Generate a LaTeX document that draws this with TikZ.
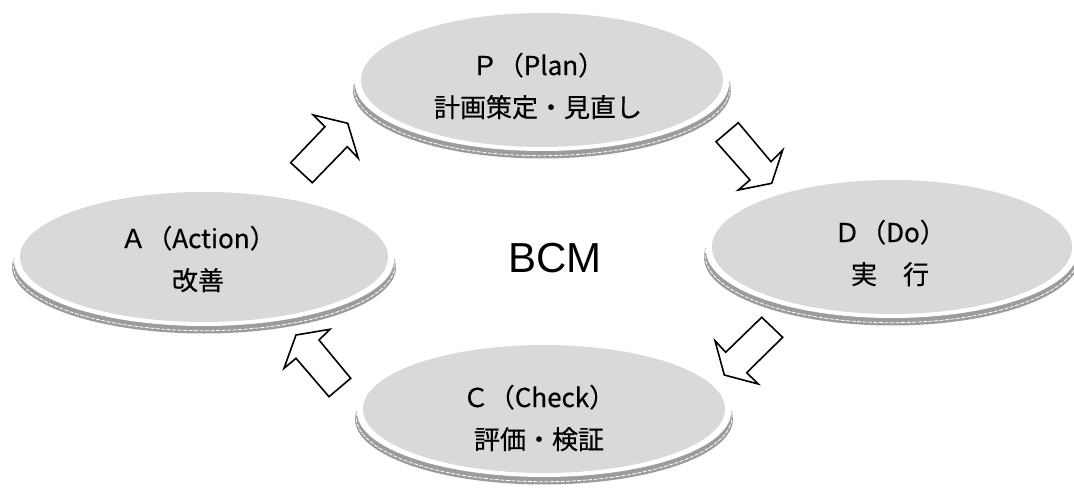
\documentclass[tikz,border=0pt]{standalone}
\usepackage{fontspec}
\setmainfont{Liberation Sans}
\newfontfamily\jpfont{Noto Sans CJK JP}
\usetikzlibrary{shapes.geometric}
\definecolor{facegray}{HTML}{D9D9D9}
\definecolor{rimgray}{HTML}{9C9C9C}
\tikzset{
  facedisc/.style={ellipse, fill=facegray, inner sep=0pt},
  disclabel/.style={font=\jpfont\fontsize{26}{42}\selectfont\addfontfeature{FakeBold=0.5}, align=center, inner sep=0pt},
  blockarrow/.style={draw=black, fill=white, line width=1.6pt, line join=miter},
}
% #1 name, #2 cx, #3 cy, #4 rx, #5 ry
\newcommand\pdcadisc[5]{%
  \fill[rimgray] (#2,#3+10) ellipse [x radius=#4pt+8pt, y radius=#5pt+1.5pt];
  \draw[white, line width=0.8pt, dash pattern=on 4pt off 1.5pt] (#2,#3+7.5) ellipse [x radius=#4pt+7pt, y radius=#5pt+1.2pt];
  \fill[white] (#2,#3+3) ellipse [x radius=#4pt+6pt, y radius=#5pt+1pt];
  \node[facedisc, minimum width=2*#4pt, minimum height=2*#5pt] (#1) at (#2,#3) {};
}
\begin{document}
\begin{tikzpicture}[x=1pt, y=-1pt]
\useasboundingbox (0,0) rectangle (1074,492);
\fill[white] (0,0) rectangle (1074,492);

\pdcadisc{P}{542}{80}{181}{67}
\pdcadisc{A}{204}{257}{184}{65}
\pdcadisc{D}{892}{247}{180}{67}
\pdcadisc{C}{544}{409}{181}{64}

\node[disclabel] (Ptext) at (538,86) {Ｐ（Plan）\\計画策定・見直し};
\node[disclabel] (Atext) at (198,259) {Ａ（Action）\\改善};
\node[disclabel] (Dtext) at (890,253) {Ｄ（Do）\\実　行};
\node[disclabel] (Ctext) at (539,418) {Ｃ（Check）\\評価・検証};

\node[font=\fontsize{42}{48}\selectfont, inner sep=0pt] (BCM) at (555,258) {BCM};

% block arrows
\draw[blockarrow] (290.7,162.7) -- (325,126.7) -- (313.3,115) -- (347.7,123.3) -- (358.3,158.3) -- (347.3,146.7) -- (312.3,182.7) -- cycle;
\draw[blockarrow] (738.3,122.7) -- (716,141.7) -- (750,180) -- (738.3,190) -- (771.7,183.3) -- (782.7,150) -- (771,161.7) -- cycle;
\draw[blockarrow] (761.7,317.3) -- (782.7,337.3) -- (746.7,372.7) -- (758.3,384) -- (724.3,375) -- (715,340.7) -- (725.7,352.3) -- cycle;
\draw[blockarrow] (350.7,378.3) -- (329,396.7) -- (296,358.3) -- (284,368.3) -- (296,335) -- (330,329.3) -- (319,340) -- cycle;
\end{tikzpicture}
\end{document}
